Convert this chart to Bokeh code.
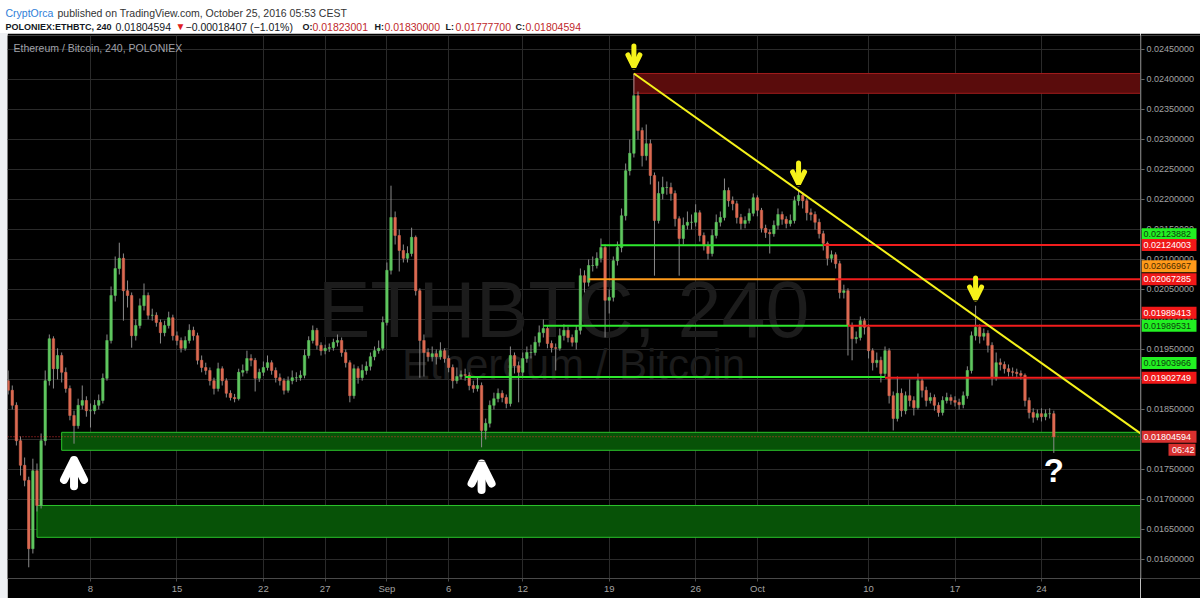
import numpy as np
import pandas as pd
from bokeh.plotting import figure
from bokeh.layouts import column, row
from bokeh.models import (ColumnDataSource, Range1d, FixedTicker, Label, Arrow, OpenHead,
                          Span, Spacer, Grid)
from bokeh.core.properties import value
from bokeh.embed import file_html
from bokeh.resources import INLINE

# ---------------- data (POLONIEX:ETHBTC, 8h candles) ----------------
first_open = 0.01898
candle_start = "2016-08-01 08:00"
candle_hours = 8

aug_close = [0.01882, 0.01857, 0.01798, 0.01757, 0.01732, 0.01618, 0.01748, 0.01690, 0.01798, 0.01898,
             0.01968, 0.01918, 0.01940, 0.01912, 0.01885, 0.01840, 0.01823, 0.01857, 0.01865, 0.01848,
             0.01848, 0.01857, 0.01865, 0.01902, 0.01965, 0.02040, 0.02085, 0.02102, 0.02048, 0.02040,
             0.01973, 0.01990, 0.02023, 0.02040, 0.02007, 0.02007, 0.01995, 0.01978, 0.01990, 0.02003,
             0.01973, 0.01965, 0.01952, 0.01965, 0.01982, 0.01973, 0.01932, 0.01920, 0.01915, 0.01898,
             0.01885, 0.01918, 0.01898, 0.01877, 0.01870, 0.01868, 0.01912, 0.01915, 0.01935, 0.01932,
             0.01902, 0.01912, 0.01920, 0.01928, 0.01915, 0.01903, 0.01898, 0.01882, 0.01898, 0.01903,
             0.01903, 0.01907, 0.01940, 0.01965, 0.01982, 0.01957, 0.01948, 0.01952, 0.01953, 0.01962,
             0.01965, 0.01945, 0.01928, 0.01873, 0.01918, 0.01903, 0.01915, 0.01922, 0.01938, 0.01948,
             0.01952, 0.01995]
aug_high = [0.01915, 0.01890, 0.01862, 0.01805, 0.01770, 0.01738, 0.01768, 0.01760, 0.01810, 0.01915,
            0.01975, 0.01972, 0.01952, 0.01945, 0.01920, 0.01890, 0.01848, 0.01868, 0.01890, 0.01872,
            0.01860, 0.01866, 0.01875, 0.01910, 0.01975, 0.02055, 0.02105, 0.02128, 0.02110, 0.02065,
            0.02045, 0.02000, 0.02035, 0.02060, 0.02045, 0.02018, 0.02012, 0.02000, 0.01998, 0.02013,
            0.02008, 0.01980, 0.01970, 0.01972, 0.01992, 0.01988, 0.01978, 0.01940, 0.01928, 0.01920,
            0.01903, 0.01928, 0.01922, 0.01902, 0.01882, 0.01876, 0.01918, 0.01925, 0.01948, 0.01942,
            0.01936, 0.01918, 0.01930, 0.01940, 0.01932, 0.01920, 0.01910, 0.01902, 0.01905, 0.01915,
            0.01912, 0.01915, 0.01950, 0.01972, 0.01990, 0.01986, 0.01962, 0.01958, 0.01960, 0.01968,
            0.01975, 0.01970, 0.01950, 0.01932, 0.01925, 0.01922, 0.01925, 0.01930, 0.01945, 0.01955,
            0.01965, 0.02005]
aug_low = [0.01875, 0.01850, 0.01790, 0.01740, 0.01722, 0.01587, 0.01610, 0.01680, 0.01685, 0.01790,
           0.01890, 0.01885, 0.01900, 0.01895, 0.01878, 0.01832, 0.01793, 0.01818, 0.01850, 0.01838,
           0.01820, 0.01842, 0.01850, 0.01860, 0.01898, 0.01960, 0.02030, 0.02075, 0.01998, 0.02020,
           0.01953, 0.01965, 0.01985, 0.02015, 0.02000, 0.01998, 0.01988, 0.01960, 0.01972, 0.01985,
           0.01965, 0.01957, 0.01945, 0.01948, 0.01960, 0.01965, 0.01925, 0.01912, 0.01908, 0.01890,
           0.01875, 0.01880, 0.01890, 0.01870, 0.01865, 0.01862, 0.01865, 0.01905, 0.01910, 0.01922,
           0.01880, 0.01896, 0.01906, 0.01915, 0.01908, 0.01895, 0.01890, 0.01875, 0.01878, 0.01892,
           0.01896, 0.01898, 0.01902, 0.01935, 0.01960, 0.01950, 0.01940, 0.01942, 0.01946, 0.01948,
           0.01955, 0.01938, 0.01920, 0.01862, 0.01868, 0.01893, 0.01898, 0.01908, 0.01915, 0.01932,
           0.01943, 0.01948]

sep_close = [0.02082, 0.02170, 0.02140, 0.02115, 0.02102, 0.02110, 0.02137, 0.02048, 0.01965, 0.01945,
             0.01938, 0.01943, 0.01938, 0.01948, 0.01935, 0.01920, 0.01898, 0.01905, 0.01908, 0.01907,
             0.01890, 0.01885, 0.01890, 0.01815, 0.01827, 0.01857, 0.01868, 0.01877, 0.01870, 0.01860,
             0.01940, 0.01923, 0.01912, 0.01935, 0.01945, 0.01945, 0.01962, 0.01978, 0.01985, 0.01960,
             0.01953, 0.01952, 0.01973, 0.01982, 0.01970, 0.01962, 0.01982, 0.02073, 0.02062, 0.02090,
             0.02090, 0.02102, 0.02120, 0.02032, 0.02037, 0.02098, 0.02120, 0.02173, 0.02248, 0.02277,
             0.02373, 0.02315, 0.02273, 0.02293, 0.02240, 0.02165, 0.02210, 0.02220, 0.02220, 0.02210,
             0.02168, 0.02135, 0.02157, 0.02162, 0.02162, 0.02178, 0.02140, 0.02123, 0.02110, 0.02140,
             0.02162, 0.02170, 0.02215, 0.02198, 0.02193, 0.02170, 0.02160, 0.02165, 0.02177, 0.02203]
sep_high = [0.02095, 0.02223, 0.02180, 0.02150, 0.02125, 0.02122, 0.02153, 0.02140, 0.02052, 0.01975,
            0.01952, 0.01955, 0.01950, 0.01962, 0.01952, 0.01940, 0.01925, 0.01920, 0.01915, 0.01918,
            0.01912, 0.01898, 0.01905, 0.01895, 0.01835, 0.01865, 0.01878, 0.01885, 0.01882, 0.01875,
            0.01955, 0.01945, 0.01930, 0.01945, 0.01955, 0.01958, 0.01972, 0.01990, 0.02000, 0.01990,
            0.01965, 0.01960, 0.01985, 0.01992, 0.01988, 0.01975, 0.01990, 0.02085, 0.02082, 0.02100,
            0.02105, 0.02112, 0.02135, 0.02125, 0.02050, 0.02105, 0.02130, 0.02185, 0.02260, 0.02300,
            0.02410, 0.02380, 0.02320, 0.02325, 0.02300, 0.02245, 0.02230, 0.02238, 0.02230, 0.02228,
            0.02215, 0.02172, 0.02170, 0.02180, 0.02175, 0.02192, 0.02182, 0.02145, 0.02130, 0.02150,
            0.02175, 0.02180, 0.02235, 0.02220, 0.02205, 0.02198, 0.02176, 0.02172, 0.02185, 0.02210]
sep_low = [0.01990, 0.02075, 0.02125, 0.02080, 0.02095, 0.02095, 0.02105, 0.02040, 0.01903, 0.01905,
           0.01930, 0.01930, 0.01925, 0.01933, 0.01928, 0.01912, 0.01885, 0.01893, 0.01900, 0.01898,
           0.01882, 0.01878, 0.01880, 0.01787, 0.01800, 0.01820, 0.01850, 0.01862, 0.01862, 0.01852,
           0.01855, 0.01910, 0.01862, 0.01905, 0.01928, 0.01935, 0.01940, 0.01955, 0.01970, 0.01952,
           0.01945, 0.01915, 0.01948, 0.01965, 0.01962, 0.01955, 0.01950, 0.01975, 0.02045, 0.02055,
           0.02080, 0.02085, 0.02095, 0.01970, 0.02010, 0.02030, 0.02090, 0.02112, 0.02165, 0.02240,
           0.02270, 0.02300, 0.02255, 0.02265, 0.02225, 0.02073, 0.02160, 0.02200, 0.02208, 0.02198,
           0.02155, 0.02073, 0.02125, 0.02150, 0.02150, 0.02155, 0.02130, 0.02115, 0.02100, 0.02105,
           0.02135, 0.02155, 0.02165, 0.02188, 0.02182, 0.02160, 0.02150, 0.02152, 0.02160, 0.02172]

oct_close = [0.02182, 0.02152, 0.02145, 0.02143, 0.02157, 0.02175, 0.02167, 0.02160, 0.02165, 0.02198,
             0.02207, 0.02198, 0.02178, 0.02175, 0.02162, 0.02143, 0.02127, 0.02102, 0.02108, 0.02093,
             0.02045, 0.02048, 0.01990, 0.01968, 0.01970, 0.01998, 0.01987, 0.01948, 0.01928, 0.01932,
             0.01910, 0.01948, 0.01873, 0.01835, 0.01877, 0.01848, 0.01873, 0.01865, 0.01853, 0.01898,
             0.01882, 0.01865, 0.01870, 0.01857, 0.01845, 0.01865, 0.01870, 0.01865, 0.01862, 0.01858,
             0.01873, 0.01915, 0.01973, 0.01987, 0.01972, 0.01977, 0.01957, 0.01903, 0.01928, 0.01925,
             0.01918, 0.01913, 0.01912, 0.01910, 0.01907, 0.01865, 0.01845, 0.01837, 0.01843, 0.01838,
             0.01843, 0.01843, 0.01804594]
oct_high = [0.02207, 0.02186, 0.02158, 0.02150, 0.02165, 0.02185, 0.02180, 0.02172, 0.02175, 0.02205,
            0.02215, 0.02212, 0.02202, 0.02185, 0.02180, 0.02168, 0.02148, 0.02130, 0.02115, 0.02112,
            0.02098, 0.02058, 0.02052, 0.01995, 0.01980, 0.02005, 0.02002, 0.01992, 0.01952, 0.01945,
            0.01938, 0.01955, 0.01952, 0.01880, 0.01905, 0.01885, 0.01880, 0.01900, 0.01872, 0.01910,
            0.01902, 0.01888, 0.01878, 0.01875, 0.01862, 0.01872, 0.01878, 0.01875, 0.01872, 0.01868,
            0.01880, 0.01922, 0.01980, 0.02023, 0.01992, 0.01985, 0.01982, 0.01962, 0.01945, 0.01935,
            0.01930, 0.01925, 0.01920, 0.01918, 0.01915, 0.01910, 0.01870, 0.01852, 0.01850, 0.01852,
            0.01850, 0.01852, 0.01848]
oct_low = [0.02172, 0.02145, 0.02136, 0.02110, 0.02138, 0.02150, 0.02158, 0.02152, 0.02155, 0.02160,
           0.02190, 0.02185, 0.02165, 0.02165, 0.02150, 0.02135, 0.02115, 0.02090, 0.02095, 0.02085,
           0.02035, 0.02035, 0.01940, 0.01932, 0.01960, 0.01965, 0.01975, 0.01935, 0.01915, 0.01920,
           0.01895, 0.01905, 0.01860, 0.01815, 0.01830, 0.01838, 0.01842, 0.01855, 0.01840, 0.01850,
           0.01870, 0.01855, 0.01860, 0.01848, 0.01838, 0.01840, 0.01860, 0.01858, 0.01855, 0.01850,
           0.01852, 0.01868, 0.01910, 0.01965, 0.01960, 0.01965, 0.01945, 0.01890, 0.01898, 0.01915,
           0.01910, 0.01905, 0.01905, 0.01902, 0.01900, 0.01855, 0.01835, 0.01828, 0.01832, 0.01830,
           0.01832, 0.01835, 0.017777]

# x axis ticks / labels
tick_dates = ["2016-08-08", "2016-08-15", "2016-08-22", "2016-08-27", "2016-09-01", "2016-09-06",
              "2016-09-12", "2016-09-19", "2016-09-26", "2016-10-01", "2016-10-10", "2016-10-17",
              "2016-10-24"]
tick_labels = ["8", "15", "22", "27", "Sep", "6", "12", "19", "26", "Oct", "10", "17", "24"]
price_ticks = [0.0160, 0.0165, 0.0170, 0.0175, 0.0180, 0.0185, 0.0190, 0.0195, 0.0200,
               0.0205, 0.0210, 0.0215, 0.0220, 0.0225, 0.0230, 0.0235, 0.0240, 0.0245]

# horizontal level drawings (value, colour, first candle, last candle / None = right edge)
level_values = [0.02123882, 0.02124003, 0.02066967, 0.02067285, 0.01989531, 0.01989413, 0.01903966, 0.01902749]
level_kind = ["green", "red", "orange", "red", "green", "red", "green", "red"]
level_from = [144, 198, 141, 201, 130, 204, 111, 213]
level_to = [198, None, 201, None, 204, None, 213, None]
level_tag_shift_px = [11, 0, 13, 0, 0, 13, 14, 0]

# rectangles (support / resistance zones)
zone_bottom = [0.01782, 0.01637, 0.02377]
zone_top = [0.01812, 0.01690, 0.02410]
zone_from = [13, 7, 152]
zone_kind = ["green", "green", "red"]

trend_anchor = [152, 192]          # candles whose highs the trend line touches
down_arrow_at = [152, 192, 235]    # yellow arrows above these highs
up_arrow_at = [16, 115]            # white arrows below these lows
question_at = 254
last_price = 0.01804594
countdown = "06:42"

# ---------------- derived ----------------
close = np.array(aug_close + sep_close + oct_close)
high = np.array(aug_high + sep_high + oct_high)
low = np.array(aug_low + sep_low + oct_low)
open_ = np.concatenate([[first_open], close[:-1]])
times = pd.date_range(candle_start, periods=len(close), freq=f"{candle_hours}h")
EPOCH = pd.Timestamp("1970-01-01")
MS = pd.Timedelta(milliseconds=1)
t_ms = np.asarray((times - EPOCH) / MS, dtype=float)


def ms(s):
    return float((pd.Timestamp(s) - EPOCH) / MS)


x_start = ms("2016-08-01 06:43")
x_end = ms("2016-11-01 00:29")
tick_ms = [ms(d) for d in tick_dates]
Y0, Y1 = 0.0156833, 0.0247333
FRAME_H = 543
PX = (Y1 - Y0) / FRAME_H           # price per screen pixel

UP, DOWN, WICK = "#5fc65f", "#dc6a52", "#8a8a8a"
COL = {"green": "#2ee82e", "red": "#f21d1d", "orange": "#ff9a1a"}
TAG_BG = {"green": "#22f022", "red": "#f01818", "orange": "#ff9a1a"}
TAG_FG = {"green": "#0d3d0d", "red": "#ffffff", "orange": "#4a2a00"}
YEL = "#f5f21a"
AXC = "#a3a3a3"
FONT = "Liberation Sans"

# ---------------- header ----------------
hdr = figure(width=1200, height=33, x_range=Range1d(0, 1200), y_range=Range1d(0, 33),
             x_axis_location=None, y_axis_location=None, toolbar_location=None,
             output_backend="svg", min_border=0)
hdr.grid.visible = False
hdr.outline_line_color = None
hdr.background_fill_color = "#ffffff"
hdr.border_fill_color = "#ffffff"


def htext(x, y, s, color, size="10.5px", style="normal"):
    hdr.text(x=[x], y=[y], text=[s], text_color=color, text_font=value(FONT),
             text_font_size=value(size), text_font_style=value(style),
             text_baseline="alphabetic", text_align="left")


htext(5, 21, "CryptOrca", "#2f7ed8", "10.5px")
htext(57, 21, "published on TradingView.com, October 25, 2016 05:53 CEST", "#333333", "10.5px")
htext(5, 7, "POLONIEX:ETHBTC, 240", "#131722", "9px", "bold")
htext(115, 7, "0.01804594", "#131722")
htext(175, 7, "\u25bc", "#e0201e", "10px")
htext(185, 7, "\u22120.00018407 (\u22121.01%)", "#131722")
for x0, lab, val in [(302, "O:", "0.01823001"), (374, "H:", "0.01830000"),
                     (445, "L:", "0.01777700"), (515, "C:", "0.01804594")]:
    htext(x0, 7, lab, "#131722", "9px", "bold")
    htext(x0 + 10, 7, val, "#c0282a")

# ---------------- main chart ----------------
p = figure(frame_width=1133, frame_height=FRAME_H, x_axis_type="datetime", y_axis_location=None,
           x_range=Range1d(x_start, x_end), y_range=Range1d(Y0, Y1),
           toolbar_location=None, output_backend="svg",
           min_border_left=0, min_border_right=0, min_border_top=2, min_border_bottom=20)
p.background_fill_color = "#000000"
p.border_fill_color = "#000000"
p.outline_line_color = None

p.xgrid.ticker = FixedTicker(ticks=tick_ms)
if len(p.ygrid) > 0:
    p.ygrid.ticker = FixedTicker(ticks=price_ticks)
else:
    p.add_layout(Grid(dimension=1, ticker=FixedTicker(ticks=price_ticks)))
p.grid.grid_line_color = "#2a2a2a"

xa = p.xaxis[0]
xa.ticker = FixedTicker(ticks=tick_ms)
xa.major_label_overrides = {t: l for t, l in zip(tick_ms, tick_labels)}
xa.axis_line_color = "#4a4a4a"
xa.major_tick_line_color = "#4a4a4a"
xa.minor_tick_line_color = None
xa.major_tick_out = 3
xa.major_tick_in = 0
xa.major_label_standoff = 1
xa.major_label_text_font = FONT
xa.major_label_text_font_size = "9.5px"
xa.major_label_text_color = AXC

# watermark + pane title
p.add_layout(Label(x=556, y=269, x_units="screen", y_units="screen", text="ETHBTC, 240",
                   text_font=FONT, text_font_size="79px", text_color="#1c1c1c",
                   text_align="center", text_baseline="alphabetic", level="underlay"))
p.add_layout(Label(x=566, y=214, x_units="screen", y_units="screen", text="Ethereum / Bitcoin",
                   text_font=FONT, text_font_size="42px", text_color="#1c1c1c",
                   text_align="center", text_baseline="alphabetic", level="underlay"))
p.add_layout(Label(x=6, y=FRAME_H - 12, x_units="screen", y_units="screen",
                   text="Ethereum / Bitcoin, 240, POLONIEX", text_font=FONT,
                   text_font_size="10.5px", text_color="#a0a3ab", text_baseline="middle"))

# zones
zsrc = ColumnDataSource(dict(
    left=[t_ms[i] for i in zone_from], right=[x_end] * len(zone_from),
    bottom=zone_bottom, top=zone_top,
    fill=["#075207" if k == "green" else "#5a0c0c" for k in zone_kind],
    line=["#2bc42b" if k == "green" else "#a11c1c" for k in zone_kind]))
p.quad(left="left", right="right", bottom="bottom", top="top", fill_color="fill",
       line_color="line", line_width=1, source=zsrc)

# candles
csrc = ColumnDataSource(dict(
    t=t_ms, h=high, l=low,
    top=np.maximum(open_, close), bottom=np.minimum(open_, close),
    color=np.where(close >= open_, UP, DOWN)))
p.segment(x0="t", y0="h", x1="t", y1="l", line_color=WICK, line_width=1, source=csrc)
p.vbar(x="t", width=candle_hours * 3600e3 * 0.6, top="top", bottom="bottom",
       fill_color="color", line_color="color", line_width=0.5, source=csrc)

# horizontal levels
lsrc = ColumnDataSource(dict(
    x0=[t_ms[a] for a in level_from],
    x1=[t_ms[b] if b is not None else x_end for b in level_to],
    y=level_values, c=[COL[k] for k in level_kind]))
p.segment(x0="x0", y0="y", x1="x1", y1="y", line_color="c", line_width=2, source=lsrc)

# trend line through the two highs, extended to the right edge
a, b = trend_anchor
slope = (high[b] - high[a]) / (t_ms[b] - t_ms[a])
p.segment(x0=[t_ms[a]], y0=[high[a]], x1=[x_end], y1=[high[a] + slope * (x_end - t_ms[a])],
          line_color=YEL, line_width=2)

# last price dotted line
p.add_layout(Span(location=last_price, dimension="width", line_color="#ff3a3a",
                  line_alpha=0.85, line_dash="1 2", line_width=1))

# arrows
for i in down_arrow_at:
    p.add_layout(Arrow(end=OpenHead(size=12, line_color=YEL, line_width=5, line_cap="round"),
                       x_start=t_ms[i], y_start=high[i] + 0.00046,
                       x_end=t_ms[i], y_end=high[i] + 0.00011,
                       line_color=YEL, line_width=5, line_cap="round"))
for i in up_arrow_at:
    p.add_layout(Arrow(end=OpenHead(size=20, line_color="#ffffff", line_width=8, line_cap="round"),
                       x_start=t_ms[i], y_start=low[i] - 0.00071,
                       x_end=t_ms[i], y_end=low[i] - 0.00027,
                       line_color="#ffffff", line_width=8, line_cap="round"))
p.add_layout(Label(x=t_ms[question_at], y=low[question_at] - 0.00030, text="?",
                   text_font=FONT, text_font_size="33px", text_font_style="bold",
                   text_color="#ffffff", text_align="center", text_baseline="middle"))

# ---------------- price scale (shares the y range) ----------------
pb = figure(frame_width=60, frame_height=FRAME_H, x_range=Range1d(0, 60), y_range=p.y_range,
            x_axis_location=None, y_axis_location=None, toolbar_location=None,
            output_backend="svg", min_border_left=0, min_border_right=0,
            min_border_top=2, min_border_bottom=20)
pb.grid.visible = False
pb.background_fill_color = "#000000"
pb.border_fill_color = "#000000"
pb.outline_line_color = None
pb.add_layout(Span(location=0.5, dimension="height", line_color="#4a4a4a", line_width=1))
pb.segment(x0=0, x1=4, y0=price_ticks, y1=price_ticks, line_color="#6a6a6a", line_width=1)
pb.text(x=6, y=price_ticks, text=[f"{v:.8f}" for v in price_ticks], text_color=AXC,
        text_font=value(FONT), text_font_size=value("9px"), text_baseline="middle",
        text_align="left")

tag_y = [v + s * PX for v, s in zip(level_values, level_tag_shift_px)]
tag_src = ColumnDataSource(dict(
    y=tag_y + [last_price], txt=[f"{v:.8f}" for v in level_values] + [f"{last_price:.8f}"],
    bg=[TAG_BG[k] for k in level_kind] + ["#d8302f"],
    fg=[TAG_FG[k] for k in level_kind] + ["#ffffff"]))
pb.rect(x=28.5, y="y", width=55, height=12, height_units="screen", fill_color="bg",
        line_color=None, source=tag_src)
pb.text(x=3, y="y", text="txt", text_color="fg", text_font=value(FONT),
        text_font_size=value("9px"), text_baseline="middle", text_align="left", source=tag_src)
cd_y = last_price - 13 * PX
pb.rect(x=41.5, y=[cd_y], width=27, height=12, height_units="screen", fill_color="#d8302f",
        line_color=None)
pb.text(x=54, y=[cd_y], text=[countdown], text_color="#ffffff", text_font=value(FONT),
        text_font_size=value("9px"), text_baseline="middle", text_align="right")

left_strip = Spacer(width=7, height=565, styles={"background-color": "#eef0f3"})
layout = column(hdr, row(left_strip, p, pb))
open("out.html", "w").write(file_html(layout, INLINE))
